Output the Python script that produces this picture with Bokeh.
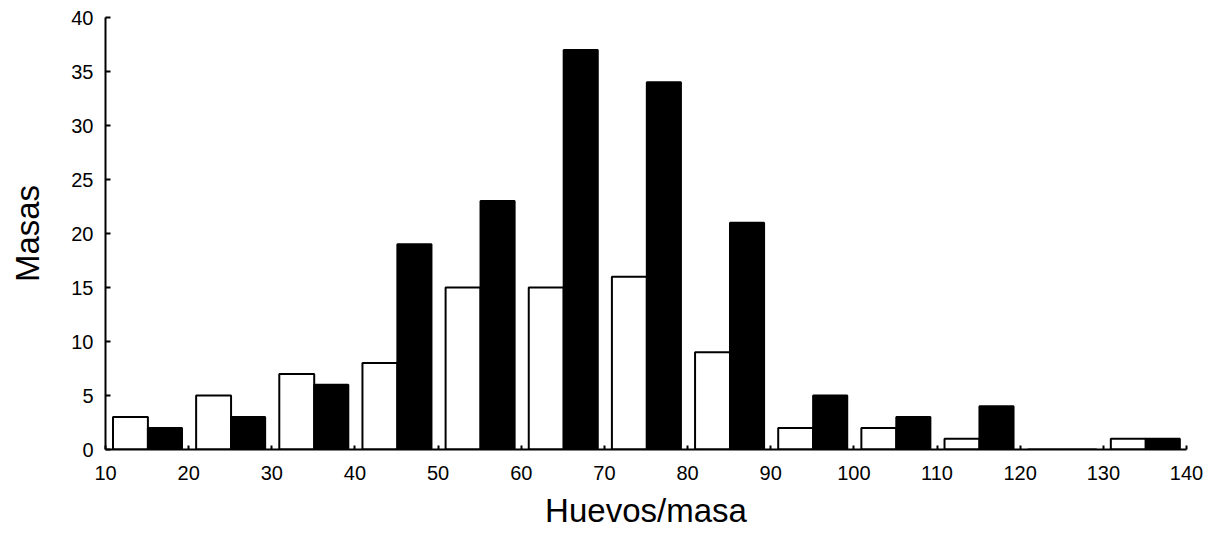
from bokeh.plotting import figure
from bokeh.models import ColumnDataSource, FixedTicker, Range1d
from bokeh.embed import file_html
from bokeh.resources import INLINE

bin_start = [10, 20, 30, 40, 50, 60, 70, 80, 90, 100, 110, 120, 130]
white_counts = [3, 5, 7, 8, 15, 15, 16, 9, 2, 2, 1, 0, 1]
black_counts = [2, 3, 6, 19, 23, 37, 34, 21, 5, 3, 4, 0, 1]
x_ticks = [10, 20, 30, 40, 50, 60, 70, 80, 90, 100, 110, 120, 130, 140]
y_ticks = [0, 5, 10, 15, 20, 25, 30, 35, 40]

src = ColumnDataSource(dict(
    xw=[b + 3.0 for b in bin_start],
    xb=[b + 7.15 for b in bin_start],
    w=white_counts,
    k=black_counts,
))

p = figure(width=1208, height=525, output_backend="svg", toolbar_location=None,
           x_range=Range1d(10, 140), y_range=Range1d(0, 40),
           frame_width=1081, frame_height=432,
           min_border_left=105, min_border_right=22, min_border_top=17, min_border_bottom=76)
p.outline_line_color = None
p.background_fill_color = "white"
p.xgrid.visible = False
p.ygrid.visible = False

p.vbar(x="xw", top="w", bottom=0, width=4.2, source=src,
       fill_color="white", line_color="black", line_width=2)
p.vbar(x="xb", top="k", bottom=0, width=4.1, source=src,
       fill_color="black", line_color="black", line_width=2)

font = "Liberation Sans"
for ax in (p.xaxis[0], p.yaxis[0]):
    ax.axis_line_color = "black"
    ax.axis_line_width = 2
    ax.major_tick_line_color = "black"
    ax.major_tick_line_width = 2
    ax.minor_tick_line_color = None
    ax.major_tick_out = 0
    ax.major_label_text_font = font
    ax.major_label_text_font_size = "20px"
    ax.major_label_text_color = "black"
    ax.axis_label_text_font = font
    ax.axis_label_text_font_style = "normal"
    ax.axis_label_text_font_size = "33px"
    ax.axis_label_text_color = "black"

p.xaxis.ticker = FixedTicker(ticks=x_ticks)
p.yaxis.ticker = FixedTicker(ticks=y_ticks)
p.xaxis.major_tick_in = 4
p.yaxis.major_tick_in = 5
p.xaxis.major_label_standoff = 16
p.yaxis.major_label_standoff = 12
p.xaxis.axis_label = "Huevos/masa"
p.yaxis.axis_label = "Masas"
p.xaxis.axis_label_standoff = 9
p.yaxis.axis_label_standoff = 22

open("out.html", "w").write(file_html(p, INLINE))
